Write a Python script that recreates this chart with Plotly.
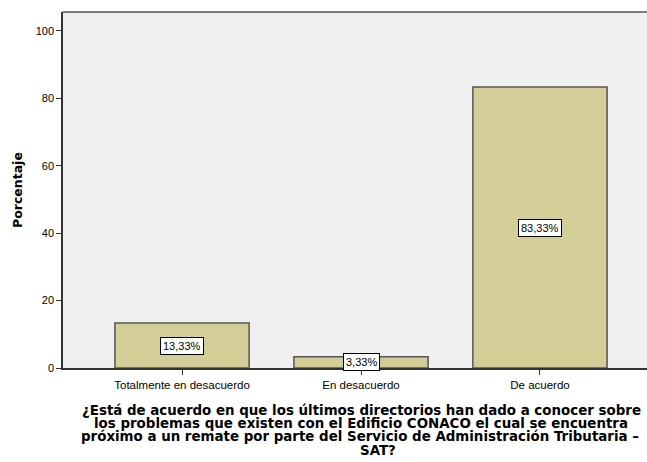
import plotly.graph_objects as go

categories = ["Totalmente en desacuerdo", "En desacuerdo", "De acuerdo"]
values = [13.33, 3.33, 83.33]
labels = ["13,33%", "3,33%", "83,33%"]
y_ticks = [0, 20, 40, 60, 80, 100]
title_lines = [
    "¿Está de acuerdo en que los últimos directorios han dado a conocer sobre",
    "los problemas que existen con el Edificio CONACO el cual se encuentra",
    "próximo a un remate por parte del Servicio de Administración Tributaria –",
    "SAT?",
]

W, H = 647, 462
ML, MT, MB, MR = 63, 12, 94, 0
PW = W - ML - MR
PH = H - MT - MB

def px_to_paper_x(px):
    return (px - ML) / PW

def px_to_paper_y(py):
    return (H - MB - py) / PH

fig = go.Figure()
fig.add_trace(go.Bar(
    x=categories, y=values, width=0.75,
    marker=dict(color="#D3CE97", line=dict(color="#555555", width=1.5)),
    hoverinfo="skip",
))

for c, v, t in zip(categories, values, labels):
    fig.add_annotation(x=c, y=v / 2, text=t, showarrow=False,
                       font=dict(family="Arial", size=11, color="black"),
                       bgcolor="white", bordercolor="black", borderwidth=1, borderpad=2)

title_y = [410, 423, 436, 450]
title_x = [361, 361, 360, 378]
for line, tx, ty in zip(title_lines, title_x, title_y):
    fig.add_annotation(x=px_to_paper_x(tx), y=px_to_paper_y(ty), xref="paper", yref="paper",
                       xanchor="center", yanchor="middle", showarrow=False,
                       text="<b>" + line + "</b>",
                       font=dict(family="DejaVu Sans", size=13.4, color="black"))

fig.add_annotation(x=px_to_paper_x(17), y=px_to_paper_y(190), xref="paper", yref="paper",
                   xanchor="center", yanchor="middle", showarrow=False, textangle=-90,
                   text="<b>Porcentaje</b>",
                   font=dict(family="DejaVu Sans", size=12.5, color="black"))

fig.update_layout(
    width=W, height=H,
    margin=dict(l=ML, r=MR, t=MT, b=MB),
    paper_bgcolor="white", plot_bgcolor="#F0F0F0",
    showlegend=False,
    font=dict(family="Arial", size=11, color="black"),
    xaxis=dict(range=[-0.665, 2.598], showline=True, linecolor="#333333", linewidth=1.5,
               ticks="outside", ticklen=5, tickcolor="#333333",
               tickfont=dict(family="Arial", size=11.5, color="black"), showgrid=False),
    yaxis=dict(range=[0, 105.6], tickvals=y_ticks, showline=True, linecolor="#333333",
               linewidth=1.5, ticks="outside", ticklen=5, tickcolor="#333333",
               showgrid=False, zeroline=False,
               tickfont=dict(family="Arial", size=11, color="black")),
)
fig.add_shape(type="line", xref="paper", yref="paper", x0=0, x1=1, y0=1, y1=1,
              line=dict(color="#555555", width=1.5))

fig.write_html("out.html", config={"displayModeBar": False},
               post_script="document.body.style.margin='0';document.body.style.overflow='hidden';")
